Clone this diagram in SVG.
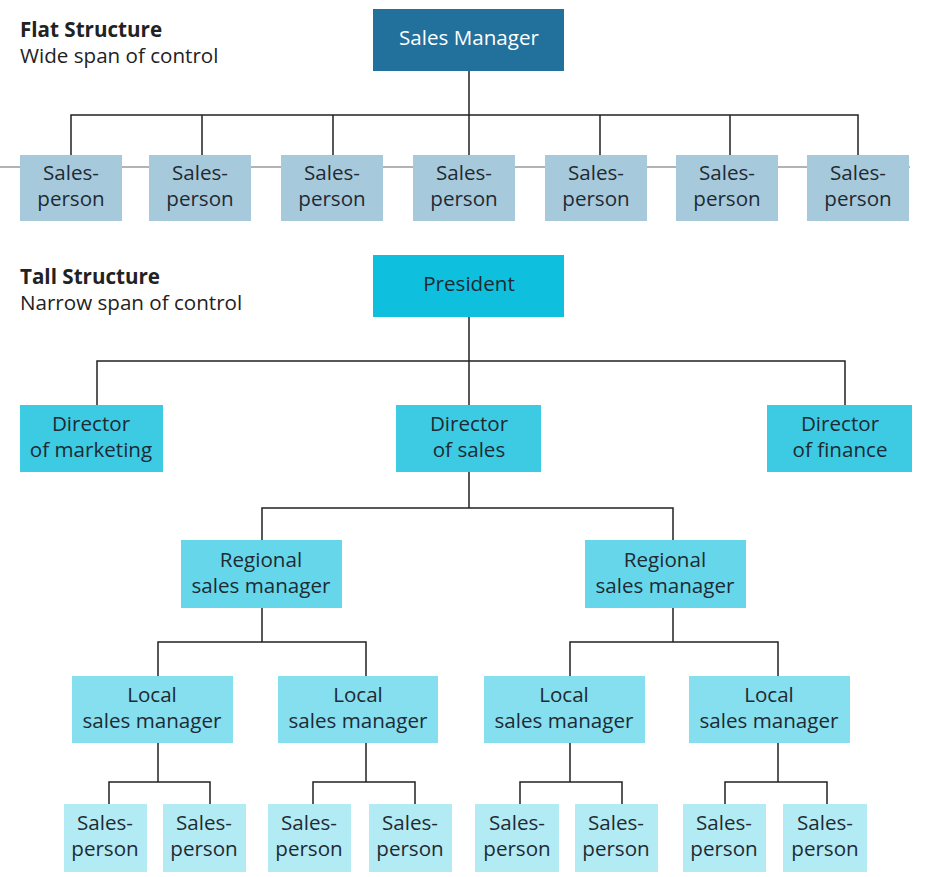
<svg xmlns="http://www.w3.org/2000/svg" width="926" height="877" viewBox="0 0 926 877">
<style>
text{font-family:"Open Sans","Noto Sans","Liberation Sans",sans-serif;font-size:20.6px;fill:#1f2a33;text-anchor:middle}
.title{text-anchor:start;fill:#222}
.b{font-weight:bold}
.conn{fill:none;stroke:#222;stroke-width:1.5}
.gray{fill:none;stroke:#9a9a9a;stroke-width:1.5}
.sm{fill:#22709c}
.fsp{fill:#a7c9dc}
.pres{fill:#0ec0dd}
.dir{fill:#3ccbe3}
.reg{fill:#66d7ea}
.loc{fill:#85dfef}
.tsp{fill:#b3ebf4}
</style>
<rect width="926" height="877" fill="#fff"/>
<g id="titles">
<text class="title b" x="20" y="36.5">Flat Structure</text>
<text class="title" x="20" y="63">Wide span of control</text>
<text class="title b" x="20" y="283.5">Tall Structure</text>
<text class="title" x="20" y="309.5">Narrow span of control</text>
</g>
<g id="connectors">
<path class="gray" d="M0 167H910"/>
<path class="conn" d="M469 71V115M71 155V115H858V155M202 115V155M333 115V155M469 115V155M600 115V155M730 115V155"/>
<path class="conn" d="M469 317V361M97 405V361H845V405M469 361V405"/>
<path class="conn" d="M469 472V508M262 540V508H673V540"/>
<path class="conn" d="M262 608V642M158 676V642H366V676"/>
<path class="conn" d="M673 608V642M570 676V642H778V676"/>
<path class="conn" d="M158 743V782M109 804V782H210V804"/>
<path class="conn" d="M366 743V782M313 804V782H415V804"/>
<path class="conn" d="M570 743V782M520 804V782H622V804"/>
<path class="conn" d="M778 743V782M725 804V782H827V804"/>
</g>
<g id="sales-manager"><rect class="sm" x="373" y="9" width="191" height="62"/><text x="469" y="45" style="fill:#fff">Sales Manager</text></g>
<g id="flat-sp1"><rect class="fsp" x="20" y="155" width="102" height="66"/><text x="71" y="179.5">Sales-</text><text x="71" y="205.5">person</text></g>
<g id="flat-sp2"><rect class="fsp" x="149" y="155" width="102" height="66"/><text x="200" y="179.5">Sales-</text><text x="200" y="205.5">person</text></g>
<g id="flat-sp3"><rect class="fsp" x="281" y="155" width="102" height="66"/><text x="332" y="179.5">Sales-</text><text x="332" y="205.5">person</text></g>
<g id="flat-sp4"><rect class="fsp" x="413" y="155" width="102" height="66"/><text x="464" y="179.5">Sales-</text><text x="464" y="205.5">person</text></g>
<g id="flat-sp5"><rect class="fsp" x="545" y="155" width="102" height="66"/><text x="596" y="179.5">Sales-</text><text x="596" y="205.5">person</text></g>
<g id="flat-sp6"><rect class="fsp" x="676" y="155" width="102" height="66"/><text x="727" y="179.5">Sales-</text><text x="727" y="205.5">person</text></g>
<g id="flat-sp7"><rect class="fsp" x="807" y="155" width="102" height="66"/><text x="858" y="179.5">Sales-</text><text x="858" y="205.5">person</text></g>
<g id="president"><rect class="pres" x="373" y="255" width="191" height="62"/><text x="469" y="291">President</text></g>
<g id="dir-marketing"><rect class="dir" x="20" y="405" width="143" height="67"/><text x="91" y="430.5">Director</text><text x="91" y="456.5">of marketing</text></g>
<g id="dir-sales"><rect class="dir" x="396" y="405" width="145" height="67"/><text x="469" y="430.5">Director</text><text x="469" y="456.5">of sales</text></g>
<g id="dir-finance"><rect class="dir" x="767" y="405" width="145" height="67"/><text x="840" y="430.5">Director</text><text x="840" y="456.5">of finance</text></g>
<g id="regional-1"><rect class="reg" x="181" y="540" width="161" height="68"/><text x="261" y="566.5">Regional</text><text x="261" y="592.5">sales manager</text></g>
<g id="regional-2"><rect class="reg" x="585" y="540" width="161" height="68"/><text x="665" y="566.5">Regional</text><text x="665" y="592.5">sales manager</text></g>
<g id="local-1"><rect class="loc" x="72" y="676" width="161" height="67"/><text x="152" y="701.5">Local</text><text x="152" y="727.5">sales manager</text></g>
<g id="local-2"><rect class="loc" x="278" y="676" width="160" height="67"/><text x="358" y="701.5">Local</text><text x="358" y="727.5">sales manager</text></g>
<g id="local-3"><rect class="loc" x="484" y="676" width="161" height="67"/><text x="564" y="701.5">Local</text><text x="564" y="727.5">sales manager</text></g>
<g id="local-4"><rect class="loc" x="689" y="676" width="161" height="67"/><text x="769" y="701.5">Local</text><text x="769" y="727.5">sales manager</text></g>
<g id="sp-1"><rect class="tsp" x="64" y="804" width="83" height="68"/><text x="105" y="829.5">Sales-</text><text x="105" y="855.5">person</text></g>
<g id="sp-2"><rect class="tsp" x="163" y="804" width="83" height="68"/><text x="204" y="829.5">Sales-</text><text x="204" y="855.5">person</text></g>
<g id="sp-3"><rect class="tsp" x="268" y="804" width="83" height="68"/><text x="309" y="829.5">Sales-</text><text x="309" y="855.5">person</text></g>
<g id="sp-4"><rect class="tsp" x="369" y="804" width="83" height="68"/><text x="410" y="829.5">Sales-</text><text x="410" y="855.5">person</text></g>
<g id="sp-5"><rect class="tsp" x="475" y="804" width="84" height="68"/><text x="517" y="829.5">Sales-</text><text x="517" y="855.5">person</text></g>
<g id="sp-6"><rect class="tsp" x="575" y="804" width="83" height="68"/><text x="616" y="829.5">Sales-</text><text x="616" y="855.5">person</text></g>
<g id="sp-7"><rect class="tsp" x="683" y="804" width="83" height="68"/><text x="724" y="829.5">Sales-</text><text x="724" y="855.5">person</text></g>
<g id="sp-8"><rect class="tsp" x="783" y="804" width="84" height="68"/><text x="825" y="829.5">Sales-</text><text x="825" y="855.5">person</text></g>
</svg>
